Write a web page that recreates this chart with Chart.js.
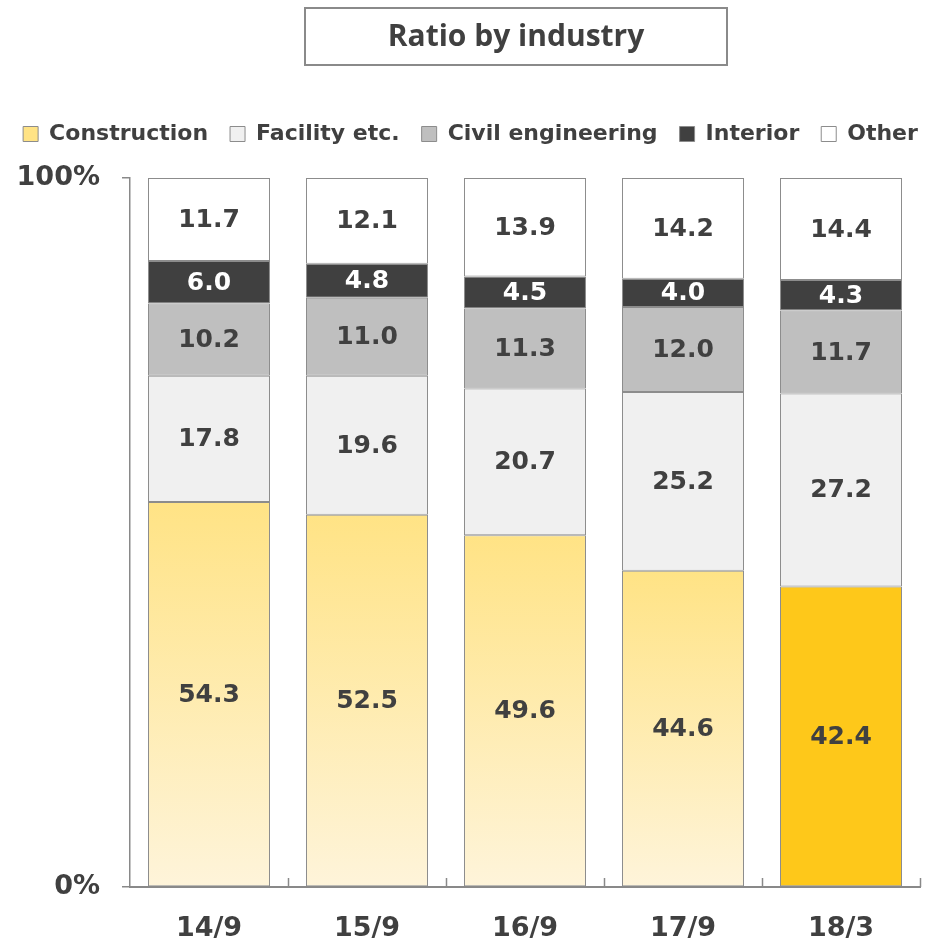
<!DOCTYPE html>
<html>
<head>
<meta charset="utf-8">
<script src="https://cdn.jsdelivr.net/npm/chart.js@4"></script>
<style>
    html, body { margin: 0; padding: 0; background: #ffffff; }
    #wrap { width: 941px; height: 941px; }
</style>
</head>
<body>
<div id="wrap"><canvas id="grafico-industria"></canvas></div>
<script>
// Períodos e participação por setor (%)
const periodos = ["14/9", "15/9", "16/9", "17/9", "18/3"];
const construction = [54.3, 52.5, 49.6, 44.6, 42.4];
const facility = [17.8, 19.6, 20.7, 25.2, 27.2];
const civil = [10.2, 11.0, 11.3, 12.0, 11.7];
const interior = [6.0, 4.8, 4.5, 4.0, 4.3];
const other = [11.7, 12.1, 13.9, 14.2, 14.4];
const ticksY = [0, 100];
const titulo = "Ratio by industry";

const corTexto = "#404040";
const corBorda = "#8c8c8c";
const corEixo = "#898989";
const fonte = "'DejaVu Sans', Verdana, sans-serif";

// Construção: degradê por barra, última barra destacada em amarelo forte
function corConstruction(context) {
    if (context.type !== "data") return "#fee48c";
    if (context.dataIndex === periodos.length - 1) return "#fec81a";
    const chart = context.chart;
    if (!chart.chartArea) return "#fee48c";
    const y = chart.scales.y;
    const topo = y.getPixelForValue(context.raw);
    const base = y.getPixelForValue(0);
    const grad = chart.ctx.createLinearGradient(0, topo, 0, base);
    grad.addColorStop(0, "#ffe385");
    grad.addColorStop(1, "#fef4da");
    return grad;
}

// Valores escritos no meio de cada segmento
const rotulosPlugin = {
    id: "rotulos",
    afterDatasetsDraw(chart) {
        const ctx = chart.ctx;
        ctx.save();
        ctx.font = "bold 25px " + fonte;
        ctx.textAlign = "center";
        ctx.textBaseline = "middle";
        chart.data.datasets.forEach((ds, i) => {
            const meta = chart.getDatasetMeta(i);
            meta.data.forEach((bar, j) => {
                ctx.fillStyle = ds.corRotulo || corTexto;
                ctx.fillText(ds.data[j].toFixed(1), bar.x, (bar.y + bar.base) / 2 + 1);
            });
        });
        ctx.restore();
    }
};

// Marcas do eixo X voltadas para cima, entre as categorias
const marcasPlugin = {
    id: "marcas",
    afterDraw(chart) {
        const x = chart.scales.x;
        const ctx = chart.ctx;
        const passo = x.width / periodos.length;
        ctx.save();
        ctx.strokeStyle = corEixo;
        ctx.lineWidth = 1.5;
        for (let i = 1; i <= periodos.length; i++) {
            const px = Math.round(x.left + passo * i) + 0.5;
            ctx.beginPath();
            ctx.moveTo(px, x.top);
            ctx.lineTo(px, x.top - 9);
            ctx.stroke();
        }
        ctx.restore();
    }
};

// Título dentro de uma moldura, acima da legenda
const tituloPlugin = {
    id: "tituloMoldura",
    afterDraw(chart) {
        const ctx = chart.ctx;
        ctx.save();
        ctx.strokeStyle = "#8a8a8a";
        ctx.lineWidth = 2;
        ctx.strokeRect(305, 8, 422, 57);
        ctx.fillStyle = corTexto;
        ctx.font = "bold 30px 'Open Sans', sans-serif";
        ctx.textAlign = "center";
        ctx.textBaseline = "middle";
        ctx.fillText(titulo, 516, 37);
        ctx.restore();
    }
};

// Eixo invisível usado só para reservar espaço
const espaco = (tam, horizontal) => ({
    display: true,
    grid: { display: false, drawTicks: false },
    border: { display: false },
    ticks: { display: false },
    afterFit: axis => {
        if (horizontal) axis.height = tam; else axis.width = tam;
    }
});

let myChartIndustria = new Chart(
    document.getElementById("grafico-industria"),
    {
        type: "bar",
        data: {
            labels: periodos,
            datasets: [
                { label: "Construction", data: construction, backgroundColor: corConstruction },
                { label: "Facility etc.", data: facility, backgroundColor: "#f0f0f0" },
                { label: "Civil engineering", data: civil, backgroundColor: "#bfbfbf" },
                { label: "Interior", data: interior, backgroundColor: "#404040", corRotulo: "#ffffff" },
                { label: "Other", data: other, backgroundColor: "#ffffff" }
            ].map(ds => Object.assign(ds, {
                borderColor: corBorda,
                borderWidth: 1,
                borderSkipped: false,
                categoryPercentage: 1,
                barPercentage: 0.772
            }))
        },
        options: {
            responsive: true,
            maintainAspectRatio: false,
            animation: false,
            layout: {
                padding: { left: 0, right: 0, top: 101, bottom: 0 }
            },
            scales: {
                x: {
                    stacked: true,
                    grid: { display: false },
                    border: { color: corEixo, width: 2 },
                    ticks: {
                        color: corTexto,
                        font: { family: fonte, size: 27, weight: "bold" },
                        padding: 18
                    },
                    afterFit: axis => { axis.height = 54; }
                },
                y: {
                    stacked: true,
                    min: 0,
                    max: 100,
                    afterBuildTicks: axis => {
                        axis.ticks = ticksY.map(v => ({ value: v }));
                    },
                    grid: {
                        drawOnChartArea: false,
                        tickLength: 8,
                        color: corEixo,
                        lineWidth: 1.5
                    },
                    border: { color: corEixo, width: 1.5 },
                    ticks: {
                        color: corTexto,
                        font: { family: fonte, size: 27, weight: "bold" },
                        padding: 22,
                        callback: v => v + "%"
                    },
                    afterFit: axis => { axis.width = 130; }
                },
                topo: Object.assign({ type: "category", position: "top" }, espaco(23, true)),
                direita: Object.assign({ type: "linear", position: "right" }, espaco(21, false))
            },
            plugins: {
                title: { display: false },
                legend: {
                    display: true,
                    labels: {
                        color: corTexto,
                        font: { family: fonte, size: 22, weight: "bold" },
                        boxWidth: 15,
                        boxHeight: 15,
                        padding: 22
                    }
                },
                tooltip: { enabled: false }
            }
        },
        plugins: [rotulosPlugin, marcasPlugin, tituloPlugin]
    }
);
</script>
</body>
</html>
